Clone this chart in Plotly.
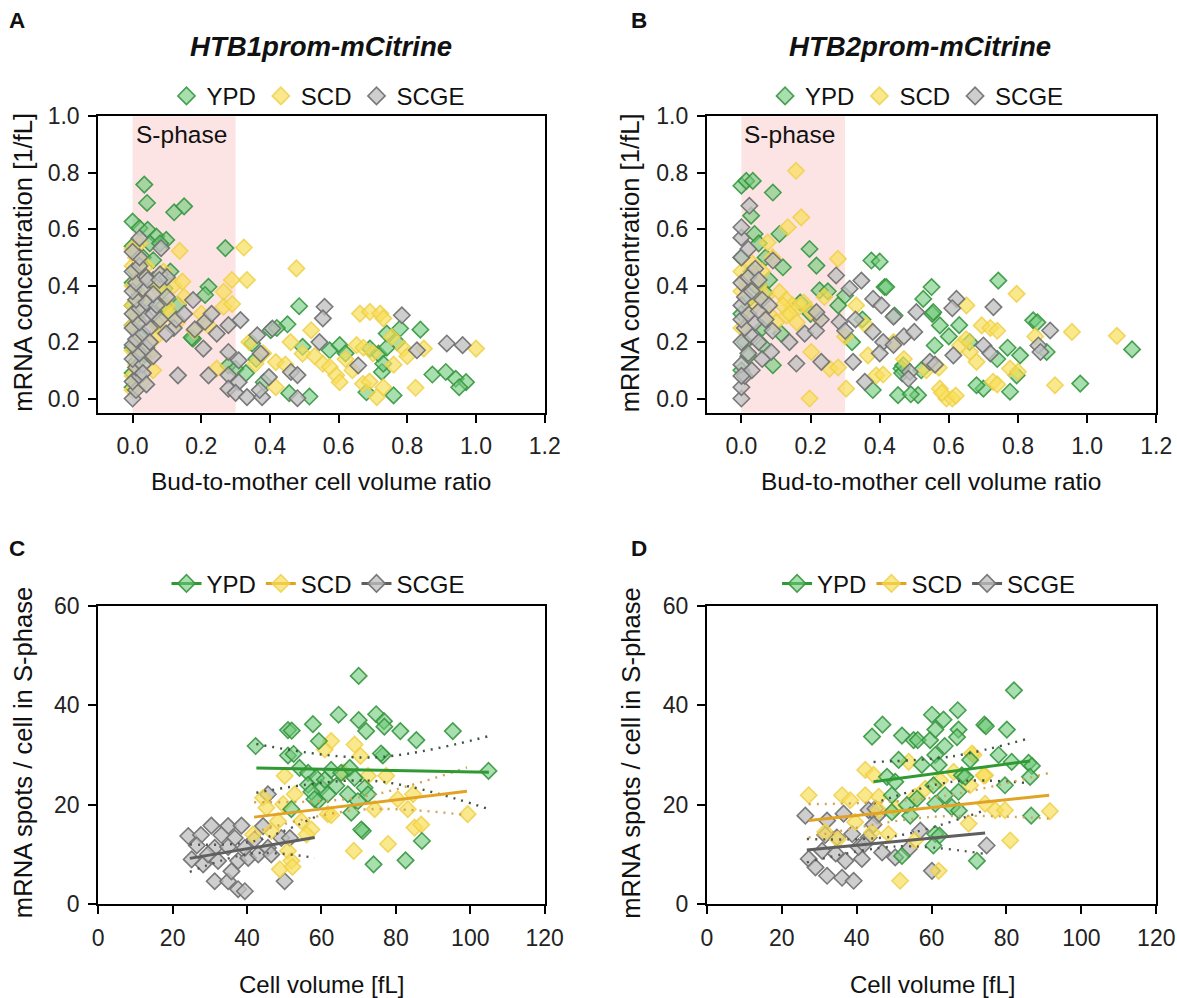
import plotly.graph_objects as go

W, H = 1177, 998
PAGE_PAD = 8            # default body margin of the html page
S = 0.978               # ratio between the photographed page and the figure
FW, FH = round(W / S) - 2 * PAGE_PAD, round(H / S) - 2 * PAGE_PAD
ROW_SHIFT, ROW_GAIN = 5.0, 0.995   # vertical correction of the photographed rows
FONT = "Liberation Sans, Arial, sans-serif"

# ---------------- Panel A: HTB1prom-mCitrine, concentration vs bud/mother ratio
a_ypd_x = [0.034, 0.042, 0.121, 0.150, 0.0, 0.02, 0.044, 0.069, 0.098, 0.27, 0.221, 0.211, 0.132, 0.103,
           0.093, 0.176, 0.172, 0.0, 0.0, 0.01, 0.0, 0.02, 0.0, 0.01, 0.0, 0.02, 0.0, 0.01, 0.03, 0.0, 0.05,
           0.06, 0.08, 0.06, 0.04, 0.07, 0.09, 0.03, 0.11,
           0.485, 0.451, 0.402, 0.348, 0.495, 0.574, 0.603, 0.716, 0.74, 0.779, 0.838, 0.726, 0.76, 0.681,
           0.873, 0.912, 0.941, 0.971, 0.951, 0.456, 0.515, 0.279, 0.3, 0.382, 0.691, 0.73, 0.42, 0.33, 0.62,
           0.74, 0.77, 0.36]
a_ypd_y = [0.758, 0.693, 0.66, 0.681, 0.627, 0.604, 0.598, 0.574, 0.562, 0.533, 0.396, 0.367, 0.331, 0.307,
           0.39, 0.212, 0.216, 0.04, 0.09, 0.13, 0.18, 0.22, 0.26, 0.29, 0.33, 0.37, 0.41, 0.45, 0.5, 0.54, 0.55,
           0.49, 0.55, 0.42, 0.34, 0.27, 0.33, 0.15, 0.45,
           0.327, 0.263, 0.242, 0.195, 0.183, 0.171, 0.189, 0.159, 0.23, 0.248, 0.244, 0.094, 0.011, 0.022,
           0.085, 0.094, 0.07, 0.058, 0.04, 0.019, 0.007, 0.117, 0.105, 0.058, 0.177, 0.123, 0.25, 0.09, 0.16,
           0.18, 0.2, 0.14]

a_scd_x = [0.0, 0.01, 0.0, 0.02, 0.0, 0.01, 0.0, 0.03, 0.0, 0.02, 0.0, 0.01, 0.0, 0.04, 0.06, 0.08, 0.1, 0.07,
           0.05, 0.09, 0.12, 0.15, 0.11, 0.13, 0.0, 0.03, 0.06, 0.02,
           0.137, 0.324, 0.477, 0.145, 0.289, 0.333, 0.265, 0.265, 0.29, 0.662, 0.691, 0.721, 0.73, 0.52,
           0.755, 0.789, 0.848, 1.0, 0.652, 0.672, 0.358, 0.417, 0.445, 0.554, 0.574, 0.593, 0.603, 0.671,
           0.711, 0.73, 0.824, 0.495, 0.417, 0.245, 0.064, 0.08, 0.2, 0.22, 0.18, 0.34, 0.38, 0.46, 0.53, 0.62,
           0.64, 0.7, 0.76, 0.8, 0.69]
a_scd_y = [0.08, 0.12, 0.17, 0.2, 0.26, 0.3, 0.33, 0.36, 0.4, 0.43, 0.47, 0.5, 0.53, 0.47, 0.41, 0.38, 0.33, 0.26,
           0.16, 0.45, 0.4, 0.36, 0.3, 0.27, 0.03, 0.06, 0.1, 0.55,
           0.523, 0.535, 0.461, 0.414, 0.42, 0.42, 0.378, 0.325, 0.335, 0.301, 0.307, 0.301, 0.284, 0.242,
           0.218, 0.177, 0.177, 0.177, 0.189, 0.18, 0.123, 0.129, 0.12, 0.123, 0.112, 0.082, 0.058, 0.052,
           0.005, 0.04, 0.038, 0.159, 0.04, 0.106, 0.212, 0.28, 0.3, 0.26, 0.24, 0.2, 0.16, 0.2, 0.15, 0.14,
           0.1, 0.16, 0.12, 0.15, 0.06]

a_scge_x = [0.0, 0.01, 0.0, 0.02, 0.01, 0.0, 0.03, 0.02, 0.0, 0.04, 0.01, 0.03, 0.0, 0.05, 0.02, 0.04, 0.0,
            0.06, 0.02, 0.01, 0.04, 0.07, 0.0, 0.03, 0.06, 0.01, 0.04, 0.0, 0.02, 0.08, 0.1, 0.1, 0.08, 0.12,
            0.05, 0.02, 0.0, 0.03, 0.06, 0.04, 0.02, 0.083, 0.044, 0.078,
            0.559, 0.554, 0.784, 0.407, 0.314, 0.279, 0.211, 0.176, 0.127, 0.098, 0.181, 0.206, 0.245, 0.363,
            0.544, 0.279, 0.309, 0.373, 0.132, 0.221, 0.279, 0.309, 0.279, 0.3, 0.333, 0.377, 0.37, 0.397,
            0.461, 0.48, 0.48, 0.657, 0.828, 0.915, 0.961, 0.15, 0.23]
a_scge_y = [0.0, 0.03, 0.06, 0.08, 0.11, 0.14, 0.12, 0.16, 0.19, 0.18, 0.21, 0.23, 0.25, 0.25, 0.27, 0.29, 0.3,
            0.3, 0.32, 0.35, 0.34, 0.33, 0.38, 0.39, 0.37, 0.41, 0.43, 0.45, 0.47, 0.44, 0.43, 0.36, 0.28, 0.25,
            0.2, 0.5, 0.52, 0.09, 0.15, 0.05, 0.568, 0.533, 0.42, 0.42,
            0.325, 0.284, 0.295, 0.248, 0.278, 0.26, 0.272, 0.349, 0.28, 0.23, 0.245, 0.177, 0.23, 0.224,
            0.2, 0.165, 0.135, 0.159, 0.082, 0.082, 0.083, 0.058, 0.035, 0.02, 0.005, 0.005, 0.03, 0.076,
            0.094, 0.083, 0.001, 0.117, 0.171, 0.195, 0.189, 0.3, 0.3]

# ---------------- Panel B: HTB2prom-mCitrine, concentration vs bud/mother ratio
b_ypd_x = [0.0, 0.014, 0.033, 0.091, 0.028, 0.038, 0.11, 0.197, 0.217, 0.12, 0.376, 0.4, 0.414, 0.55, 0.526,
           0.552, 0.226, 0.25, 0.3, 0.067, 0.115, 0.062, 0.091, 0.443, 0.463, 0.465, 0.511, 0.453, 0.38, 0.743,
           0.844, 0.856, 0.806, 0.883, 0.98, 1.13, 0.777, 0.7, 0.555, 0.574, 0.559, 0.68, 0.49, 0.468, 0.419,
           0.796, 0.6, 0.63, 0.66, 0.28, 0.35, 0.17, 0.2, 0.32, 0.52, 0.74, 0.77,
           0.0, 0.01, 0.0, 0.02, 0.03, 0.0, 0.05, 0.04, 0.07, 0.08, 0.06, 0.02]
b_ypd_y = [0.754, 0.771, 0.771, 0.73, 0.648, 0.583, 0.583, 0.53, 0.471, 0.465, 0.489, 0.485, 0.395, 0.395, 0.353,
           0.3, 0.383, 0.38, 0.365, 0.377, 0.23, 0.188, 0.118, 0.294, 0.106, 0.09, 0.012, 0.012, 0.03, 0.418,
           0.277, 0.27, 0.153, 0.165, 0.053, 0.174, 0.024, 0.035, 0.306, 0.259, 0.188, 0.047, 0.015, 0.118, 0.395,
           0.082, 0.22, 0.26, 0.2, 0.33, 0.28, 0.34, 0.3, 0.2, 0.1, 0.14, 0.18,
           0.1, 0.2, 0.3, 0.35, 0.45, 0.5, 0.55, 0.4, 0.5, 0.42, 0.25, 0.15]

b_scd_x = [0.158, 0.173, 0.134, 0.076, 0.279, 0.796, 0.956, 1.086, 0.907, 0.197, 0.303, 0.11, 0.13, 0.148,
           0.167, 0.13, 0.202, 0.255, 0.28, 0.332, 0.366, 0.39, 0.41, 0.651, 0.632, 0.65, 0.695, 0.72, 0.74,
           0.661, 0.728, 0.74, 0.574, 0.593, 0.61, 0.62, 0.58, 0.535, 0.777, 0.8, 0.571,
           0.0, 0.01, 0.0, 0.03, 0.02, 0.05, 0.07, 0.06, 0.09, 0.04, 0.0, 0.08, 0.1, 0.12, 0.14, 0.16, 0.18,
           0.2, 0.22, 0.24, 0.44, 0.47, 0.36, 0.3, 0.68, 0.85]
b_scd_y = [0.807, 0.642, 0.607, 0.553, 0.495, 0.371, 0.236, 0.222, 0.047, 0.0, 0.035, 0.377, 0.35, 0.33,
           0.325, 0.294, 0.165, 0.106, 0.11, 0.33, 0.153, 0.082, 0.085, 0.33, 0.188, 0.21, 0.259, 0.25, 0.24,
           0.165, 0.059, 0.05, 0.035, 0.0, 0.0, 0.01, 0.02, 0.1, 0.106, 0.095, 0.109,
           0.45, 0.42, 0.38, 0.48, 0.3, 0.4, 0.36, 0.45, 0.5, 0.33, 0.25, 0.3, 0.27, 0.33, 0.3, 0.27, 0.34,
           0.31, 0.29, 0.36, 0.2, 0.14, 0.26, 0.22, 0.13, 0.22]

b_scge_x = [0.0, 0.0, 0.01, 0.0, 0.02, 0.0, 0.03, 0.01, 0.0, 0.04, 0.02, 0.0, 0.05, 0.01, 0.03, 0.0, 0.06, 0.02,
            0.04, 0.0, 0.02, 0.0, 0.023, 0.0, 0.05, 0.07, 0.09, 0.03, 0.06, 0.0, 0.08, 0.05,
            0.274, 0.347, 0.313, 0.381, 0.405, 0.622, 0.61, 0.729, 0.506, 0.44, 0.893, 0.859, 0.865, 0.7, 0.72,
            0.613, 0.545, 0.56, 0.487, 0.483, 0.357, 0.323, 0.231, 0.159, 0.086, 0.139, 0.183, 0.216, 0.23,
            0.284, 0.3, 0.33, 0.38, 0.41, 0.44, 0.47, 0.5, 0.4, 0.217, 0.091]
b_scge_y = [0.0, 0.04, 0.08, 0.12, 0.16, 0.2, 0.22, 0.25, 0.28, 0.27, 0.3, 0.33, 0.31, 0.36, 0.38, 0.41, 0.35,
            0.43, 0.46, 0.5, 0.53, 0.57, 0.683, 0.607, 0.2, 0.28, 0.24, 0.1, 0.14, 0.08, 0.33, 0.42,
            0.436, 0.418, 0.389, 0.353, 0.33, 0.353, 0.32, 0.324, 0.306, 0.29, 0.241, 0.188, 0.165, 0.188, 0.16,
            0.153, 0.13, 0.12, 0.094, 0.07, 0.059, 0.13, 0.13, 0.124, 0.165, 0.2, 0.23, 0.24, 0.28,
            0.271, 0.24, 0.28, 0.236, 0.2, 0.19, 0.22, 0.236, 0.16, 0.306, 0.489]

# ---------------- Panel C: HTB1 mRNA spots per S-phase cell vs cell volume
c_ypd_x = [70.0, 64.6, 74.7, 76.8, 76.9, 70.0, 72.0, 57.7, 51.0, 52.0, 81.2, 85.5, 95.3, 42.3, 59.3, 51.0, 52.5,
           76.5, 76.0, 104.9, 54.1, 56.4, 58.6, 56.4, 60.0, 62.6, 65.3, 67.6, 68.9, 71.6, 67.1, 64.0, 61.7,
           59.1, 69.8, 72.5, 57.3, 60.9, 51.9, 68.0, 71.1, 87.0, 74.0, 82.6, 58.1, 70.7]
c_ypd_y = [45.9, 38.1, 38.2, 36.8, 35.7, 37.0, 34.8, 36.2, 35.0, 34.9, 34.8, 33.0, 34.8, 31.8, 32.8, 29.9, 30.2,
           29.9, 30.3, 26.8, 27.4, 26.4, 25.4, 24.0, 23.4, 27.0, 26.4, 27.4, 25.4, 23.4, 22.1, 23.8, 22.1,
           20.7, 20.7, 22.1, 22.6, 25.0, 19.1, 18.4, 14.7, 12.7, 8.0, 8.8, 21.1, 15.0]

c_scd_x = [62.6, 60.9, 68.9, 70.5, 50.1, 77.4, 72.5, 44.3, 45.2, 52.8, 49.7, 80.5, 84.6, 83.2, 74.3, 61.7,
           62.6, 54.6, 48.3, 46.5, 41.6, 57.3, 56.0, 85.0, 86.8, 99.3, 77.9, 68.7, 51.0, 51.9, 48.8, 52.2, 66.0]
c_scd_y = [32.8, 31.1, 32.1, 29.8, 25.8, 25.8, 25.8, 21.4, 19.4, 22.1, 20.1, 21.1, 22.1, 19.1, 19.1, 18.1,
           17.9, 16.7, 16.7, 14.7, 14.0, 15.0, 14.0, 15.4, 16.0, 18.1, 12.1, 10.7, 10.7, 8.7, 7.0, 7.5, 26.5]

c_scge_x = [24.2, 27.6, 30.4, 34.9, 38.5, 33.1, 36.7, 44.3, 45.6, 31.3, 34.9, 25.1, 28.2, 31.3, 34.9, 37.6,
            39.4, 35.8, 32.2, 37.6, 40.3, 43.0, 45.6, 49.2, 51.5, 50.1, 46.5, 29.5, 39.4, 26.5, 42.0]
c_scge_y = [13.7, 13.9, 15.8, 15.7, 15.8, 13.9, 13.3, 15.7, 22.1, 11.3, 11.5, 9.0, 8.0, 4.6, 4.6, 3.0,
            2.6, 6.6, 8.7, 8.7, 9.3, 10.0, 11.3, 13.3, 13.3, 4.6, 10.0, 10.0, 11.3, 11.8, 13.0]

# ---------------- Panel D: HTB2 mRNA spots per S-phase cell vs cell volume
d_ypd_x = [82.0, 67.0, 60.1, 63.2, 46.9, 44.1, 52.1, 55.2, 56.3, 59.6, 61.0, 67.2, 66.8, 74.1, 74.5, 80.1,
           63.5, 61.0, 57.4, 61.9, 51.2, 70.3, 77.9, 81.4, 85.9, 86.8, 86.3, 48.1, 50.3, 68.1, 69.0, 79.6,
           60.5, 63.6, 67.2, 49.4, 53.4, 56.1, 61.0, 65.4, 67.3, 49.4, 54.3, 86.6, 61.0, 62.1, 60.5, 52.1, 72.1]
d_ypd_y = [43.0, 39.0, 38.1, 37.1, 36.1, 33.7, 33.9, 33.0, 33.0, 33.0, 35.1, 35.1, 33.6, 36.1, 35.8, 35.1,
           31.8, 30.0, 28.0, 28.0, 29.0, 29.0, 30.0, 28.6, 28.4, 27.8, 25.6, 25.6, 24.6, 25.9, 25.6, 23.9,
           23.9, 21.9, 22.6, 21.9, 19.9, 21.2, 20.2, 19.5, 18.8, 18.5, 17.8, 17.8, 14.1, 13.8, 11.8, 9.7, 8.7]

d_scd_x = [27.2, 36.1, 38.3, 42.3, 44.5, 42.3, 45.9, 53.9, 71.2, 74.3, 77.0, 79.6, 91.6, 81.0, 69.9, 61.9,
           51.6, 48.5, 44.1, 45.9, 50.3, 55.6, 58.3, 62.3, 65.9, 70.3, 74.3, 31.6, 39.6, 35.0, 55.6, 70.8, 73.9]
d_scd_y = [21.9, 21.9, 20.9, 27.0, 26.0, 21.9, 21.6, 28.6, 30.0, 25.9, 18.9, 18.9, 18.7, 12.8, 16.2, 6.7,
           4.7, 14.1, 14.4, 18.9, 19.2, 21.6, 23.2, 24.9, 26.6, 23.9, 20.2, 14.5, 16.5, 13.0, 12.8, 30.3, 25.9]

d_scge_x = [26.3, 32.1, 36.5, 43.2, 45.5, 34.7, 31.6, 38.8, 43.2, 46.8, 30.8, 27.2, 34.4, 37.0, 41.4, 29.0,
            32.1, 36.1, 39.2, 57.0, 74.7, 60.1, 53.9, 50.3, 45.0, 40.5, 44.5, 42.0]
d_scge_y = [17.8, 16.8, 18.2, 18.9, 17.8, 13.4, 13.9, 14.1, 13.4, 10.4, 10.7, 9.1, 10.2, 8.7, 9.1, 7.4,
            5.7, 5.3, 4.7, 14.8, 11.8, 6.7, 11.1, 9.4, 19.2, 11.5, 16.0, 12.0]

# Linear fits and 95% confidence bands (start / middle / end of each fitted range)
c_fit = {
    "YPD": dict(x=[42.5, 73.7, 105.0], y=[27.4, 27.0, 26.5], lo=[22.4, 24.8, 19.1], hi=[32.2, 29.5, 33.8]),
    "SCD": dict(x=[41.9, 70.5, 99.1], y=[17.5, 20.1, 22.7], lo=[14.5, 19.0, 17.9], hi=[20.5, 21.5, 27.5]),
    "SCGE": dict(x=[24.6, 41.4, 58.2], y=[9.2, 11.3, 13.4], lo=[6.5, 10.2, 9.3], hi=[12.0, 12.6, 17.5]),
}
d_fit = {
    "YPD": dict(x=[44.5, 65.4, 86.3], y=[24.6, 26.7, 28.8], lo=[20.2, 24.6, 24.3], hi=[28.6, 29.7, 33.4]),
    "SCD": dict(x=[27.2, 59.3, 91.4], y=[16.8, 19.35, 21.9], lo=[13.4, 17.5, 17.2], hi=[20.1, 21.3, 26.4]),
    "SCGE": dict(x=[26.7, 50.5, 74.3], y=[10.9, 12.6, 14.3], lo=[8.4, 11.6, 10.1], hi=[13.1, 13.7, 18.9]),
}

conditions = ["YPD", "SCD", "SCGE"]
fill = {"YPD": "rgba(110,202,120,0.6)", "SCD": "rgba(248,222,85,0.68)", "SCGE": "rgba(192,192,192,0.78)"}
edge = {"YPD": "rgba(55,150,65,0.9)", "SCD": "rgba(238,208,75,0.85)", "SCGE": "rgba(115,115,115,0.95)"}
fitcol = {"YPD": "#2f9a33", "SCD": "#e2a324", "SCGE": "#5f5f5f"}
cicol = {"YPD": "#3f5540", "SCD": "#d3a455", "SCGE": "#555555"}


def px(v):
    """Photographed pixel column -> paper fraction of the figure."""
    return (v / S - PAGE_PAD) / FW


def py(v):
    """Photographed pixel row -> paper fraction of the figure."""
    v = (v - ROW_SHIFT) / ROW_GAIN
    return 1 - (v / S - PAGE_PAD) / FH


def fs(v):
    """Size in photographed pixels -> size in figure pixels."""
    return round(v / S, 1)


fig = go.Figure()

panels = {
    "A": dict(ax="", data={"YPD": (a_ypd_x, a_ypd_y), "SCD": (a_scd_x, a_scd_y), "SCGE": (a_scge_x, a_scge_y)}),
    "B": dict(ax="2", data={"YPD": (b_ypd_x, b_ypd_y), "SCD": (b_scd_x, b_scd_y), "SCGE": (b_scge_x, b_scge_y)}),
    "C": dict(ax="3", data={"YPD": (c_ypd_x, c_ypd_y), "SCD": (c_scd_x, c_scd_y), "SCGE": (c_scge_x, c_scge_y)},
              fit=c_fit),
    "D": dict(ax="4", data={"YPD": (d_ypd_x, d_ypd_y), "SCD": (d_scd_x, d_scd_y), "SCGE": (d_scge_x, d_scge_y)},
              fit=d_fit),
}
legend_names = {"A": "legend", "B": "legend2", "C": "legend3", "D": "legend4"}

for key, p in panels.items():
    xa, ya = "x" + p["ax"], "y" + p["ax"]
    has_fit = "fit" in p
    order = ["SCGE", "SCD", "YPD"] if has_fit else conditions
    for cond in order:
        xs, ys = p["data"][cond]
        fig.add_trace(go.Scatter(
            x=xs, y=ys, mode="markers", xaxis=xa, yaxis=ya, showlegend=False,
            marker=dict(symbol="diamond", size=fs(12.3), color=fill[cond],
                        line=dict(color=edge[cond], width=1.6)),
        ))
    if has_fit:
        for cond in conditions:
            f = p["fit"][cond]
            for band in ("lo", "hi"):
                fig.add_trace(go.Scatter(
                    x=f["x"], y=f[band], mode="lines", xaxis=xa, yaxis=ya, showlegend=False,
                    line=dict(color=cicol[cond], width=2.4, dash="2px,6px", shape="spline"),
                ))
        for cond in conditions:
            f = p["fit"][cond]
            fig.add_trace(go.Scatter(
                x=[f["x"][0], f["x"][-1]], y=[f["y"][0], f["y"][-1]], mode="lines",
                xaxis=xa, yaxis=ya, showlegend=False,
                line=dict(color=fitcol[cond], width=3),
            ))
    # legend entries
    for cond in conditions:
        fig.add_trace(go.Scatter(
            x=[None], y=[None], name=cond, xaxis=xa, yaxis=ya,
            mode="lines+markers" if has_fit else "markers",
            legend=legend_names[key],
            marker=dict(symbol="diamond", size=fs(13), color=fill[cond], line=dict(color=edge[cond], width=1.6)),
            line=dict(color=fitcol[cond], width=3),
        ))

axis_common = dict(
    showline=True, linecolor="black", linewidth=2, mirror=True, ticks="outside", ticklen=8,
    tickwidth=2, tickcolor="black", showgrid=False, zeroline=False, ticklabelstandoff=4,
    tickfont=dict(family=FONT, size=fs(22.5), color="#222"),
)

domA_x = [px(100), px(546)]
domB_x = [px(708), px(1157)]
dom_top = [py(412), py(116)]
dom_bot = [py(903), py(605)]

fig.update_layout(
    xaxis=dict(domain=domA_x, range=[-0.1, 1.2], dtick=0.2, tick0=0, tickformat=".1f", anchor="y", **axis_common),
    yaxis=dict(domain=dom_top, range=[-0.05, 1.0], dtick=0.2, tick0=0, tickformat=".1f", anchor="x", **axis_common),
    xaxis2=dict(domain=domB_x, range=[-0.1, 1.2], dtick=0.2, tick0=0, tickformat=".1f", anchor="y2", **axis_common),
    yaxis2=dict(domain=dom_top, range=[-0.05, 1.0], dtick=0.2, tick0=0, tickformat=".1f", anchor="x2", **axis_common),
    xaxis3=dict(domain=domA_x, range=[0, 120], dtick=20, anchor="y3", **axis_common),
    yaxis3=dict(domain=dom_bot, range=[0, 60], dtick=20, anchor="x3", **axis_common),
    xaxis4=dict(domain=domB_x, range=[0, 120], dtick=20, anchor="y4", **axis_common),
    yaxis4=dict(domain=dom_bot, range=[0, 60], dtick=20, anchor="x4", **axis_common),
)

leg_common = dict(orientation="h", xanchor="center", yanchor="middle", bgcolor="rgba(0,0,0,0)",
                  font=dict(family=FONT, size=fs(23.5), color="#111"), itemclick=False, itemdoubleclick=False,
                  tracegroupgap=0)
fig.update_layout(
    legend=dict(x=px(320), y=py(96), **leg_common),
    legend2=dict(x=px(918), y=py(96), **leg_common),
    legend3=dict(x=px(320), y=py(583), **leg_common),
    legend4=dict(x=px(930), y=py(583), **leg_common),
)

# S-phase windows
for xa, ya in (("x", "y"), ("x2", "y2")):
    fig.add_shape(type="rect", xref=xa, yref=ya + " domain", x0=0, x1=0.3, y0=0, y1=1,
                  fillcolor="#fde4e4", line=dict(width=0), layer="below")
    fig.add_annotation(xref=xa, yref=ya + " domain", x=0.0, y=1.0, xanchor="left", yanchor="top",
                       xshift=1, yshift=-3, text="S-phase", showarrow=False,
                       font=dict(family=FONT, size=fs(24), color="#111"))

letters = [(px(9), py(20), "A"), (px(630), py(20), "B"), (px(9), py(548), "C"), (px(630), py(548), "D")]
for x, y, t in letters:
    fig.add_annotation(xref="paper", yref="paper", x=x, y=y, xanchor="left", yanchor="middle",
                       text="<b>" + t + "</b>", showarrow=False,
                       font=dict(family=FONT, size=fs(22), color="#111"))

titles = [
    (px(323), py(46), "<b><i>HTB1prom-mCitrine</i></b>", 0, 27),
    (px(921), py(46), "<b><i>HTB2prom-mCitrine</i></b>", 0, 27),
    (px(323), py(481), "Bud-to-mother cell volume ratio", 0, 24),
    (px(932), py(481), "Bud-to-mother cell volume ratio", 0, 24),
    (px(323), py(983), "Cell volume [fL]", 0, 23.5),
    (px(933), py(983), "Cell volume [fL]", 0, 23.5),
    (px(25), py(262), "mRNA concentration [1/fL]", -90, 25),
    (px(632), py(262), "mRNA concentration [1/fL]", -90, 25),
    (px(25), py(752), "mRNA spots / cell in S-phase", -90, 25),
    (px(632), py(752), "mRNA spots / cell in S-phase", -90, 25),
]
for x, y, text, ang, size in titles:
    fig.add_annotation(xref="paper", yref="paper", x=x, y=y, xanchor="center", yanchor="middle",
                       text=text, textangle=ang, showarrow=False,
                       font=dict(family=FONT, size=fs(size), color="#111"))

fig.update_layout(
    width=FW, height=FH, margin=dict(l=0, r=0, t=0, b=0),
    paper_bgcolor="white", plot_bgcolor="white",
    font=dict(family=FONT),
)

fig.write_html("out.html")
